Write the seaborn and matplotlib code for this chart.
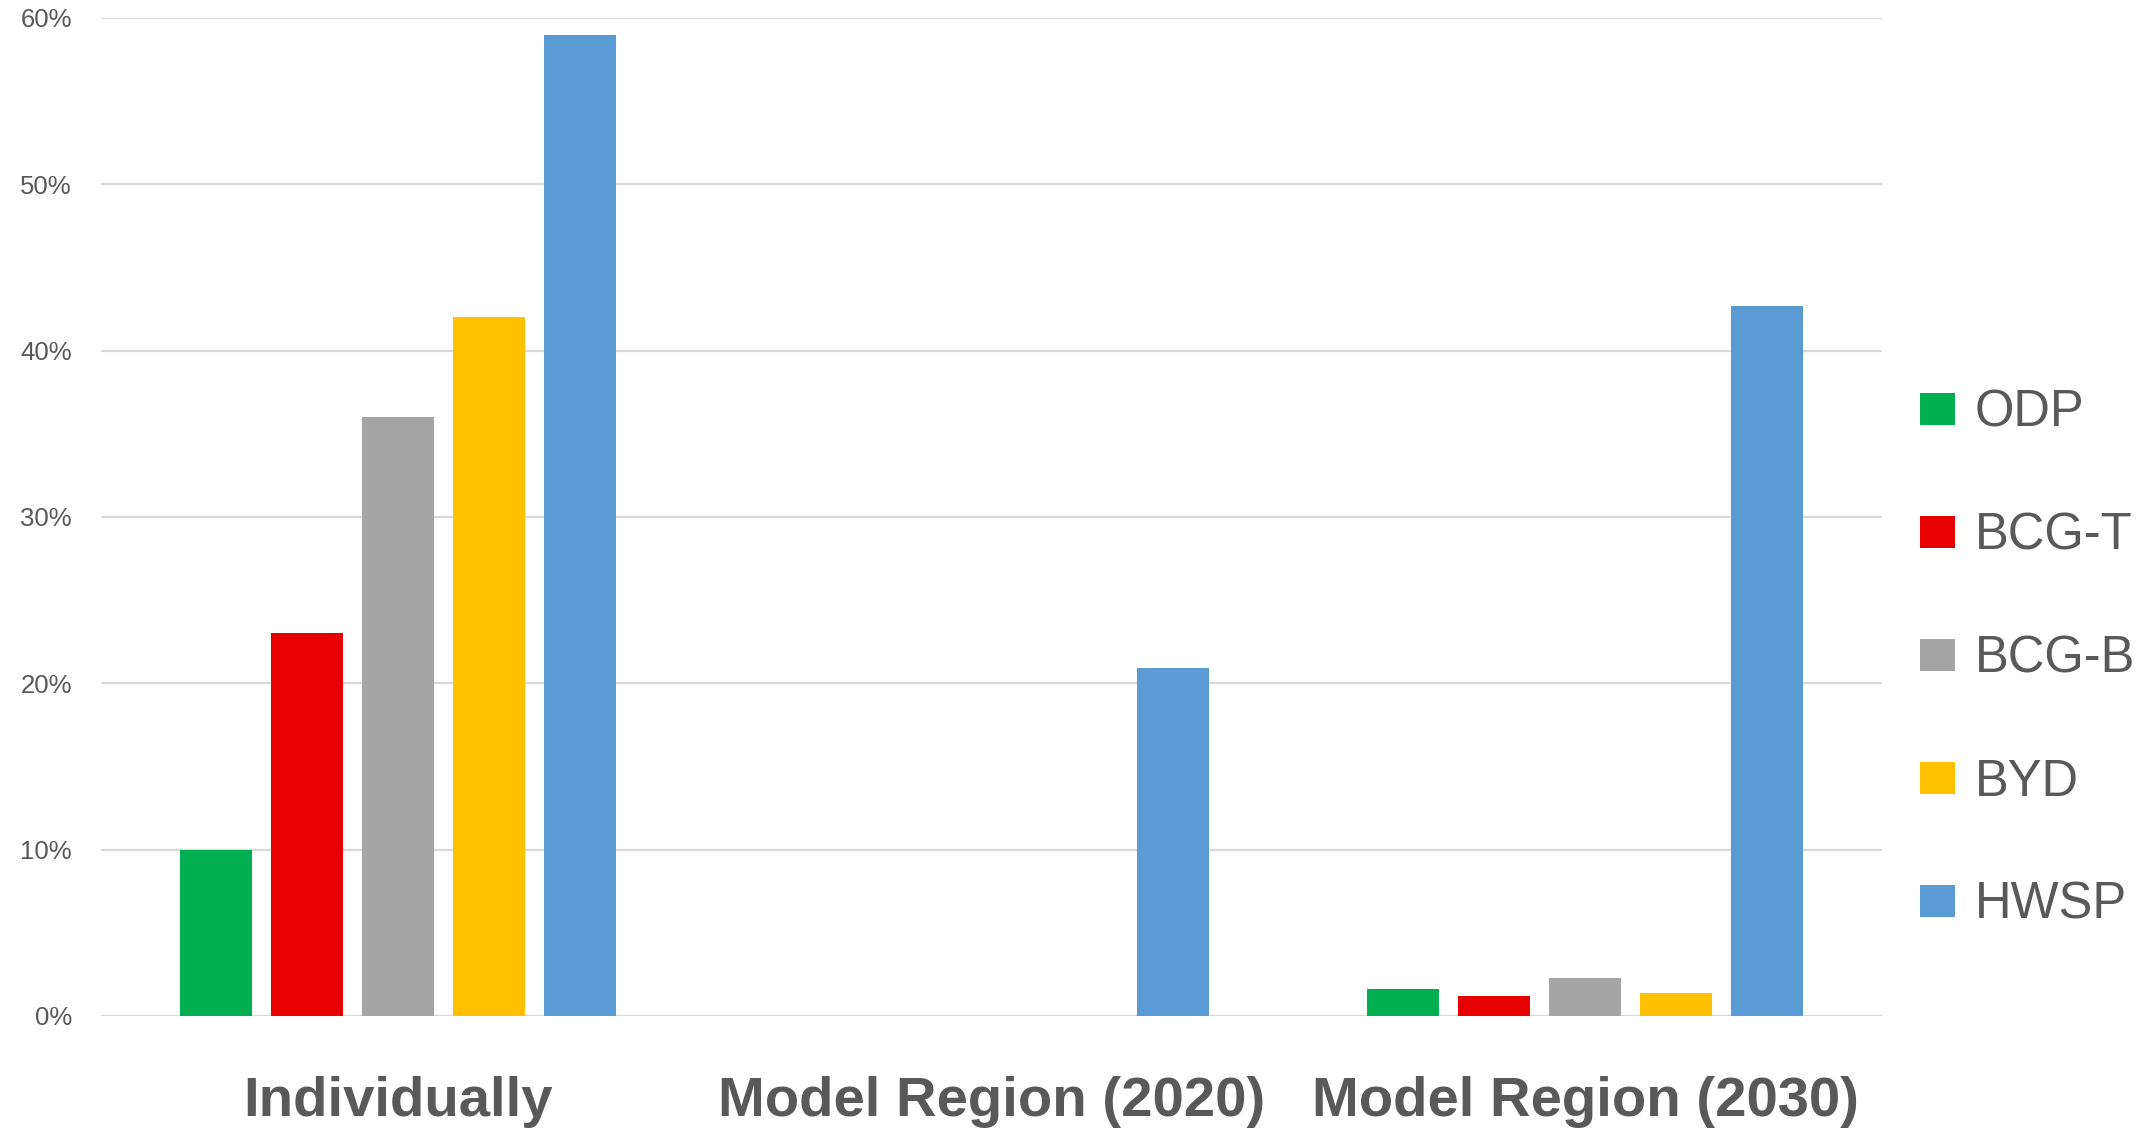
import matplotlib
matplotlib.use("Agg")
import matplotlib.pyplot as plt
import seaborn as sns
import pandas as pd

# DATA ---------------------------------------------------------------------------

groups = ['Individually', 'Model Region (2020)', 'Model Region (2030)']
series = ['ODP', 'BCG-T', 'BCG-B', 'BYD', 'HWSP']
colors = ['#00B050', '#E60000', '#A5A5A5', '#FFC000', '#5B9BD5']

# values in percent, one list per series (order follows groups)
odp = [10.0, 0.0, 1.6]
bcg_t = [23.0, 0.0, 1.2]
bcg_b = [36.0, 0.0, 2.3]
byd = [42.0, 0.0, 1.4]
hwsp = [59.0, 20.9, 42.7]

y_ticks = [0, 10, 20, 30, 40, 50, 60]

# BUILD LONG TABLE ---------------------------------------------------------------

values = [odp, bcg_t, bcg_b, byd, hwsp]
rows = []
for name, vals in zip(series, values):
    for g, v in zip(groups, vals):
        rows.append({'group': g, 'series': name, 'value': v})
df = pd.DataFrame(rows)

# PLOT ---------------------------------------------------------------------------

sns.set_style('white')
plt.rcParams['font.family'] = ['Liberation Sans', 'DejaVu Sans']

fig = plt.figure(figsize=(21.51, 11.32), dpi=100)
ax = fig.add_axes([0.04696, 0.1025, 0.8279, 0.8816])

sns.barplot(
    data=df, x='group', y='value', hue='series',
    order=groups, hue_order=series, palette=colors, saturation=1,
    width=0.766, gap=0.21, linewidth=0, errorbar=None,
    ax=ax, zorder=3,
)

ax.set_ylim(0, 60)
ax.set_xlim(-0.5, 2.5)
ax.set_yticks(y_ticks)
ax.set_yticklabels([f'{t}%' for t in y_ticks], color='#595959', fontsize=18.5)
ax.yaxis.grid(True, color='#D9D9D9', linewidth=1.6, zorder=0)
ax.set_axisbelow(True)
ax.tick_params(axis='y', length=0, pad=21)
ax.tick_params(axis='x', length=0, pad=43)
for lab in ax.get_xticklabels():
    lab.set_fontweight('bold')
    lab.set_fontsize(40.5)
    lab.set_color('#595959')
ax.set_xlabel('')
ax.set_ylabel('')
sns.despine(ax=ax, left=True, bottom=True)

handles, labels = ax.get_legend_handles_labels()
ax.legend(
    handles, labels, loc='center left', bbox_to_anchor=(0.8926, 0.4175),
    bbox_transform=fig.transFigure, frameon=False, fontsize=36.5,
    handlelength=0.7, handleheight=0.62, handletextpad=0.38,
    labelspacing=1.46, borderpad=0, borderaxespad=0, labelcolor='#595959',
)

fig.savefig('out.png', dpi=100)
